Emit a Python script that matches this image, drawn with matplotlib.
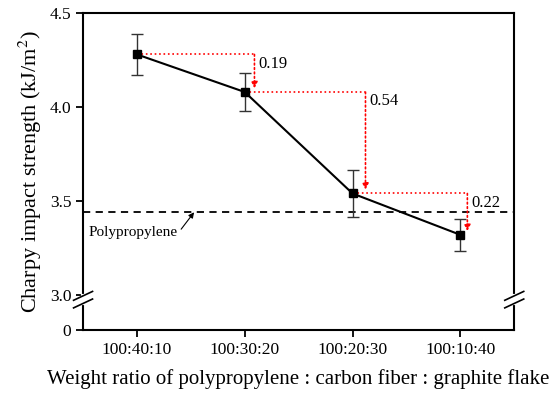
import matplotlib
matplotlib.use("Agg")
import matplotlib.pyplot as plt

# data
ratios = ["100:40:10", "100:30:20", "100:20:30", "100:10:40"]
strength = [4.28, 4.08, 3.54, 3.32]
errors = [0.11, 0.10, 0.125, 0.085]
drops = ["0.19", "0.54", "0.22"]
pp_level = 3.44

plt.rcParams['font.family'] = ['Liberation Serif', 'DejaVu Serif']
plt.rcParams['mathtext.fontset'] = 'stix'

zero_pos = 2.814  # where "0" sits below the axis break

fig = plt.figure(figsize=(5.5, 3.97), dpi=100)
ax = fig.add_axes([0.151, 0.169, 0.784, 0.798])

x = list(range(len(ratios)))
ax.errorbar(x, strength, yerr=errors, color='black', lw=1.5, marker='s', ms=6,
            ecolor='#333333', elinewidth=1, capsize=4, capthick=1, zorder=3)

# polypropylene reference line
ax.axhline(pp_level, color='black', ls=(0, (4, 3)), lw=1.3, zorder=2)
ax.text(-0.45, 3.33, "Polypropylene", fontsize=11, va='center', ha='left')
ax.annotate("", xy=(0.53, pp_level), xytext=(0.41, 3.35),
            arrowprops=dict(arrowstyle='-|>', color='black', lw=0.8,
                            mutation_scale=8, shrinkA=0, shrinkB=0))

# red step arrows showing the drop between neighbours
offsets = [0.09, 0.12, 0.065]
for i in range(len(drops)):
    xe = x[i + 1] + offsets[i]
    ax.plot([x[i], xe], [strength[i], strength[i]], color='red', ls=':', lw=1.2, zorder=1)
    ax.annotate("", xy=(xe, strength[i + 1] + 0.02), xytext=(xe, strength[i]),
                arrowprops=dict(arrowstyle='-|>', color='red', lw=1.2, ls=':',
                                mutation_scale=9, shrinkA=0, shrinkB=0))
    ax.text(xe + 0.04, strength[i] - 0.05, drops[i], fontsize=12, va='center', ha='left')

ax.set_xlim(-0.5, 3.5)
ax.set_ylim(zero_pos, 4.5)
ax.set_xticks(x)
ax.set_xticklabels(ratios, fontsize=12.5)
ax.set_yticks([zero_pos, 3.0, 3.5, 4.0, 4.5])
ax.set_yticklabels(["0", "3.0", "3.5", "4.0", "4.5"], fontsize=12.5)
ax.tick_params(direction='out', length=5, width=1.3)
for s in ax.spines.values():
    s.set_linewidth(1.5)

ax.set_xlabel("Weight ratio of polypropylene : carbon fiber : graphite flake",
              fontsize=15, labelpad=8)
ax.set_ylabel("Charpy impact strength (kJ/m$^2$)", fontsize=16, labelpad=4)

# axis break marks on both vertical spines
yb = (2.975 - zero_pos) / (4.5 - zero_pos)
for xs in (0, 1):
    ax.plot([xs, xs], [yb - 0.012, yb + 0.012], transform=ax.transAxes,
            color='white', lw=3, clip_on=False, zorder=5)
    for dy in (-0.012, 0.012):
        ax.plot([xs - 0.022, xs + 0.022], [yb + dy - 0.014, yb + dy + 0.014],
                transform=ax.transAxes, color='black', lw=1.2,
                clip_on=False, zorder=6)

fig.savefig("out.png", dpi=100)
